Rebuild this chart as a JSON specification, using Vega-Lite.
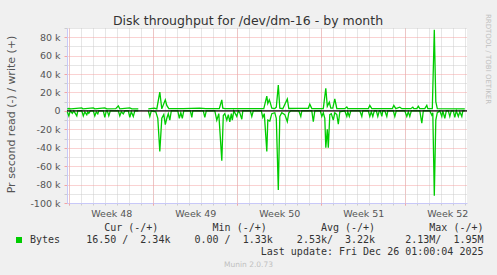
{
  "$schema": "https://vega.github.io/schema/vega-lite/v6.json",
  "width": 400,
  "height": 175,
  "autosize": {"type": "none"},
  "padding": {"left": 67, "top": 28, "right": 30, "bottom": 72},
  "background": "#f0f0f0",
  "view": {"fill": "#ffffff", "stroke": null},
  "title": {
    "text": "Disk throughput for /dev/dm-16 - by month",
    "font": "DejaVu Sans", "fontSize": 12.5, "fontWeight": "normal", "color": "#333333",
    "anchor": "middle", "frame": "group", "dx": -19, "offset": -24, "baseline": "alphabetic"
  },
  "datasets": {
    "write": [
      {"t": "2025-11-22T20:00Z", "v": 2200}, {"t": "2025-11-22T23:00Z", "v": 2600}, {"t": "2025-11-23T03:00Z", "v": 2200},
      {"t": "2025-11-24T01:00Z", "v": 3300}, {"t": "2025-11-24T03:00Z", "v": 2200}, {"t": "2025-11-25T00:00Z", "v": 3300},
      {"t": "2025-11-25T03:00Z", "v": 2200}, {"t": "2025-11-25T23:00Z", "v": 3300}, {"t": "2025-11-26T03:00Z", "v": 2200},
      {"t": "2025-11-26T21:00Z", "v": 2400}, {"t": "2025-11-27T02:00Z", "v": 5400}, {"t": "2025-11-27T05:00Z", "v": 2200},
      {"t": "2025-11-28T01:00Z", "v": 3300}, {"t": "2025-11-28T05:00Z", "v": 2200}, {"t": "2025-11-28T18:00Z", "v": 2200},
      {"t": "2025-11-29T03:00Z", "v": null},
      {"t": "2025-11-29T14:00Z", "v": 2200}, {"t": "2025-11-30T02:00Z", "v": 3000}, {"t": "2025-11-30T07:00Z", "v": 2200},
      {"t": "2025-11-30T13:00Z", "v": 20500}, {"t": "2025-11-30T17:00Z", "v": 2200}, {"t": "2025-12-01T00:00Z", "v": 12000},
      {"t": "2025-12-01T03:00Z", "v": 6000}, {"t": "2025-12-01T07:00Z", "v": 2500}, {"t": "2025-12-02T12:00Z", "v": 2500},
      {"t": "2025-12-03T21:00Z", "v": 3000}, {"t": "2025-12-04T09:00Z", "v": 2400}, {"t": "2025-12-05T12:00Z", "v": 2400},
      {"t": "2025-12-05T17:00Z", "v": 12000}, {"t": "2025-12-05T19:00Z", "v": 3000}, {"t": "2025-12-05T23:00Z", "v": 2400},
      {"t": "2025-12-09T05:00Z", "v": 2500}, {"t": "2025-12-09T11:00Z", "v": 16000}, {"t": "2025-12-09T13:00Z", "v": 8000},
      {"t": "2025-12-09T16:00Z", "v": 12000}, {"t": "2025-12-09T18:00Z", "v": 8700}, {"t": "2025-12-09T21:00Z", "v": 3000},
      {"t": "2025-12-10T03:00Z", "v": 2500}, {"t": "2025-12-10T06:00Z", "v": 4000}, {"t": "2025-12-10T10:00Z", "v": 28000},
      {"t": "2025-12-10T13:00Z", "v": 3000}, {"t": "2025-12-10T19:00Z", "v": 2400}, {"t": "2025-12-11T04:00Z", "v": 13000},
      {"t": "2025-12-11T07:00Z", "v": 2600}, {"t": "2025-12-12T01:00Z", "v": 2800}, {"t": "2025-12-12T22:00Z", "v": 2800},
      {"t": "2025-12-13T01:00Z", "v": 7200}, {"t": "2025-12-13T05:00Z", "v": 2600}, {"t": "2025-12-14T04:00Z", "v": 2400},
      {"t": "2025-12-14T09:00Z", "v": 24600}, {"t": "2025-12-14T12:00Z", "v": 5000}, {"t": "2025-12-14T16:00Z", "v": 9400},
      {"t": "2025-12-14T19:00Z", "v": 3000}, {"t": "2025-12-14T23:00Z", "v": 3000}, {"t": "2025-12-15T03:00Z", "v": 13000},
      {"t": "2025-12-15T07:00Z", "v": 2600}, {"t": "2025-12-15T23:00Z", "v": 2400}, {"t": "2025-12-16T03:00Z", "v": 4300},
      {"t": "2025-12-16T05:00Z", "v": 2400}, {"t": "2025-12-17T22:00Z", "v": 2400}, {"t": "2025-12-18T01:00Z", "v": 6000},
      {"t": "2025-12-18T05:00Z", "v": 2500}, {"t": "2025-12-19T22:00Z", "v": 2400}, {"t": "2025-12-20T01:00Z", "v": 6000},
      {"t": "2025-12-20T05:00Z", "v": 2500}, {"t": "2025-12-20T13:00Z", "v": 4000}, {"t": "2025-12-20T17:00Z", "v": 2400},
      {"t": "2025-12-21T11:00Z", "v": 2400}, {"t": "2025-12-21T15:00Z", "v": 4000}, {"t": "2025-12-21T17:00Z", "v": 2400},
      {"t": "2025-12-21T23:00Z", "v": 2400}, {"t": "2025-12-22T02:00Z", "v": 5000}, {"t": "2025-12-22T05:00Z", "v": 2400},
      {"t": "2025-12-22T15:00Z", "v": 2400}, {"t": "2025-12-22T19:00Z", "v": 6000}, {"t": "2025-12-22T21:00Z", "v": 2400},
      {"t": "2025-12-23T06:00Z", "v": 2400}, {"t": "2025-12-23T10:00Z", "v": 88000}, {"t": "2025-12-23T13:00Z", "v": 10000},
      {"t": "2025-12-23T16:00Z", "v": 2400}, {"t": "2025-12-25T23:00Z", "v": 2300}
    ],
    "read": [
      {"t": "2025-11-22T20:00Z", "v": -1000}, {"t": "2025-11-22T23:00Z", "v": -5400}, {"t": "2025-11-23T02:00Z", "v": 0},
      {"t": "2025-11-23T06:00Z", "v": -2600}, {"t": "2025-11-23T09:00Z", "v": 0}, {"t": "2025-11-23T15:00Z", "v": -5400},
      {"t": "2025-11-23T17:00Z", "v": 0}, {"t": "2025-11-24T01:00Z", "v": 0}, {"t": "2025-11-24T04:00Z", "v": -5400},
      {"t": "2025-11-24T07:00Z", "v": -1000}, {"t": "2025-11-24T11:00Z", "v": -4300}, {"t": "2025-11-24T13:00Z", "v": -1000},
      {"t": "2025-11-24T15:00Z", "v": -2600}, {"t": "2025-11-24T18:00Z", "v": 0}, {"t": "2025-11-25T00:00Z", "v": 0},
      {"t": "2025-11-25T03:00Z", "v": -5400}, {"t": "2025-11-25T06:00Z", "v": -1000}, {"t": "2025-11-25T09:00Z", "v": -3300},
      {"t": "2025-11-25T11:00Z", "v": 0}, {"t": "2025-11-25T20:00Z", "v": 0}, {"t": "2025-11-25T23:00Z", "v": -6900},
      {"t": "2025-11-26T02:00Z", "v": 0}, {"t": "2025-11-26T04:00Z", "v": 0}, {"t": "2025-11-26T07:00Z", "v": -5400},
      {"t": "2025-11-26T10:00Z", "v": 0}, {"t": "2025-11-27T02:00Z", "v": 0}, {"t": "2025-11-27T05:00Z", "v": -5400},
      {"t": "2025-11-27T08:00Z", "v": -1000}, {"t": "2025-11-27T12:00Z", "v": -3300}, {"t": "2025-11-27T15:00Z", "v": 0},
      {"t": "2025-11-27T22:00Z", "v": 0}, {"t": "2025-11-28T01:00Z", "v": -6900}, {"t": "2025-11-28T04:00Z", "v": -1000},
      {"t": "2025-11-28T08:00Z", "v": -6000}, {"t": "2025-11-28T11:00Z", "v": 0}, {"t": "2025-11-28T18:00Z", "v": 0},
      {"t": "2025-11-29T03:00Z", "v": null},
      {"t": "2025-11-29T14:00Z", "v": 0}, {"t": "2025-11-29T17:00Z", "v": -6000}, {"t": "2025-11-29T20:00Z", "v": 0},
      {"t": "2025-11-30T05:00Z", "v": -1000}, {"t": "2025-11-30T09:00Z", "v": -8000}, {"t": "2025-11-30T13:00Z", "v": -44000},
      {"t": "2025-11-30T17:00Z", "v": -8000}, {"t": "2025-11-30T21:00Z", "v": -4000}, {"t": "2025-12-01T00:00Z", "v": -15000},
      {"t": "2025-12-01T03:00Z", "v": -8000}, {"t": "2025-12-01T06:00Z", "v": -3000}, {"t": "2025-12-01T09:00Z", "v": -10000},
      {"t": "2025-12-01T12:00Z", "v": 0}, {"t": "2025-12-02T01:00Z", "v": 0}, {"t": "2025-12-02T04:00Z", "v": -8000},
      {"t": "2025-12-02T07:00Z", "v": -2000}, {"t": "2025-12-02T10:00Z", "v": -8000}, {"t": "2025-12-02T13:00Z", "v": 0},
      {"t": "2025-12-03T02:00Z", "v": 0}, {"t": "2025-12-03T05:00Z", "v": -7000}, {"t": "2025-12-03T07:00Z", "v": 0},
      {"t": "2025-12-04T04:00Z", "v": 0}, {"t": "2025-12-04T07:00Z", "v": -7000}, {"t": "2025-12-04T10:00Z", "v": 0},
      {"t": "2025-12-05T03:00Z", "v": 0}, {"t": "2025-12-05T07:00Z", "v": -10000}, {"t": "2025-12-05T11:00Z", "v": -3000},
      {"t": "2025-12-05T17:00Z", "v": -54000}, {"t": "2025-12-05T20:00Z", "v": -5000}, {"t": "2025-12-05T23:00Z", "v": -3000},
      {"t": "2025-12-06T03:00Z", "v": -10000}, {"t": "2025-12-06T06:00Z", "v": -4000}, {"t": "2025-12-06T09:00Z", "v": -12000},
      {"t": "2025-12-06T12:00Z", "v": -3000}, {"t": "2025-12-06T14:00Z", "v": -10000}, {"t": "2025-12-06T17:00Z", "v": 0},
      {"t": "2025-12-06T23:00Z", "v": -6000}, {"t": "2025-12-07T02:00Z", "v": 0}, {"t": "2025-12-07T05:00Z", "v": -2000},
      {"t": "2025-12-07T09:00Z", "v": -9000}, {"t": "2025-12-07T11:00Z", "v": 0}, {"t": "2025-12-08T02:00Z", "v": 0},
      {"t": "2025-12-08T05:00Z", "v": -6000}, {"t": "2025-12-08T08:00Z", "v": 0}, {"t": "2025-12-09T00:00Z", "v": 0},
      {"t": "2025-12-09T03:00Z", "v": -7000}, {"t": "2025-12-09T06:00Z", "v": -3000}, {"t": "2025-12-09T11:00Z", "v": -44000},
      {"t": "2025-12-09T13:00Z", "v": -10000}, {"t": "2025-12-09T17:00Z", "v": -11000}, {"t": "2025-12-09T21:00Z", "v": -3000},
      {"t": "2025-12-10T03:00Z", "v": -2000}, {"t": "2025-12-10T06:00Z", "v": -8000}, {"t": "2025-12-10T10:00Z", "v": -86000},
      {"t": "2025-12-10T13:00Z", "v": -6000}, {"t": "2025-12-10T17:00Z", "v": -2000}, {"t": "2025-12-10T23:00Z", "v": -4000},
      {"t": "2025-12-11T04:00Z", "v": -11600}, {"t": "2025-12-11T07:00Z", "v": -2000}, {"t": "2025-12-11T11:00Z", "v": 0},
      {"t": "2025-12-12T03:00Z", "v": 0}, {"t": "2025-12-12T07:00Z", "v": -6000}, {"t": "2025-12-12T09:00Z", "v": 0},
      {"t": "2025-12-13T05:00Z", "v": 0}, {"t": "2025-12-13T08:00Z", "v": -11600}, {"t": "2025-12-13T11:00Z", "v": 0},
      {"t": "2025-12-13T22:00Z", "v": 0}, {"t": "2025-12-14T01:00Z", "v": -6000}, {"t": "2025-12-14T04:00Z", "v": -2000},
      {"t": "2025-12-14T07:00Z", "v": -8000}, {"t": "2025-12-14T09:00Z", "v": -40000}, {"t": "2025-12-14T12:00Z", "v": -20000},
      {"t": "2025-12-14T14:00Z", "v": -40000}, {"t": "2025-12-14T17:00Z", "v": -4000}, {"t": "2025-12-14T20:00Z", "v": -3000},
      {"t": "2025-12-15T00:00Z", "v": -10000}, {"t": "2025-12-15T03:00Z", "v": -2000}, {"t": "2025-12-15T07:00Z", "v": -4000},
      {"t": "2025-12-15T10:00Z", "v": -14500}, {"t": "2025-12-15T13:00Z", "v": -1000}, {"t": "2025-12-15T23:00Z", "v": 0},
      {"t": "2025-12-16T03:00Z", "v": -6000}, {"t": "2025-12-16T05:00Z", "v": -1000}, {"t": "2025-12-16T08:00Z", "v": -6000},
      {"t": "2025-12-16T11:00Z", "v": 0}, {"t": "2025-12-17T05:00Z", "v": 0}, {"t": "2025-12-17T09:00Z", "v": -6000},
      {"t": "2025-12-17T11:00Z", "v": 0}, {"t": "2025-12-17T22:00Z", "v": 0}, {"t": "2025-12-18T01:00Z", "v": -6000},
      {"t": "2025-12-18T04:00Z", "v": -1000}, {"t": "2025-12-18T07:00Z", "v": -6000}, {"t": "2025-12-18T10:00Z", "v": 0},
      {"t": "2025-12-18T14:00Z", "v": 0}, {"t": "2025-12-18T17:00Z", "v": -6000}, {"t": "2025-12-18T20:00Z", "v": 0},
      {"t": "2025-12-18T22:00Z", "v": 0}, {"t": "2025-12-19T01:00Z", "v": -6000}, {"t": "2025-12-19T03:00Z", "v": 0},
      {"t": "2025-12-19T07:00Z", "v": 0}, {"t": "2025-12-19T11:00Z", "v": -6000}, {"t": "2025-12-19T13:00Z", "v": 0},
      {"t": "2025-12-20T00:00Z", "v": 0}, {"t": "2025-12-20T03:00Z", "v": -6000}, {"t": "2025-12-20T06:00Z", "v": 0},
      {"t": "2025-12-20T23:00Z", "v": 0}, {"t": "2025-12-21T03:00Z", "v": -6000}, {"t": "2025-12-21T06:00Z", "v": -1000},
      {"t": "2025-12-21T09:00Z", "v": -6000}, {"t": "2025-12-21T12:00Z", "v": 0}, {"t": "2025-12-22T05:00Z", "v": 0},
      {"t": "2025-12-22T09:00Z", "v": -13400}, {"t": "2025-12-22T12:00Z", "v": 0}, {"t": "2025-12-23T01:00Z", "v": 0},
      {"t": "2025-12-23T05:00Z", "v": -4700}, {"t": "2025-12-23T07:00Z", "v": -2000}, {"t": "2025-12-23T10:00Z", "v": -92000},
      {"t": "2025-12-23T13:00Z", "v": -10000}, {"t": "2025-12-23T16:00Z", "v": -2000}, {"t": "2025-12-23T21:00Z", "v": 0},
      {"t": "2025-12-24T01:00Z", "v": -6000}, {"t": "2025-12-24T03:00Z", "v": 0}, {"t": "2025-12-24T07:00Z", "v": -8000},
      {"t": "2025-12-24T10:00Z", "v": 0}, {"t": "2025-12-24T14:00Z", "v": 0}, {"t": "2025-12-24T17:00Z", "v": -6000},
      {"t": "2025-12-24T20:00Z", "v": 0}, {"t": "2025-12-25T00:00Z", "v": 0}, {"t": "2025-12-25T03:00Z", "v": -7000},
      {"t": "2025-12-25T06:00Z", "v": 0}, {"t": "2025-12-25T10:00Z", "v": -6000}, {"t": "2025-12-25T13:00Z", "v": -1000},
      {"t": "2025-12-25T17:00Z", "v": -6000}, {"t": "2025-12-25T19:00Z", "v": 0}, {"t": "2025-12-25T23:00Z", "v": 0}
    ]
  },
  "layer": [
    {
      "data": {"name": "write"},
      "mark": {"type": "line", "strokeWidth": 1.3, "invalid": "break-paths-show-domains"},
      "encoding": {
        "x": {
          "field": "t", "type": "temporal",
          "scale": {
            "type": "utc",
            "domain": [
              {"year": 2025, "month": 11, "date": 22, "hours": 19, "minutes": 24, "utc": true},
              {"year": 2025, "month": 12, "date": 26, "hours": 3, "minutes": 24, "utc": true}
            ]
          },
          "axis": {
            "orient": "bottom",
            "tickCount": {"interval": "day", "step": 1},
            "grid": true, "gridColor": "#cccccc", "gridDash": [1, 1], "gridWidth": 1,
            "labels": false, "ticks": true, "tickColor": "#cccccc", "tickSize": 2,
            "domain": true, "domainColor": "#c8c8f8", "domainWidth": 1,
            "title": [
              "Cur\u00a0(-/+)\u00a0\u00a0\u00a0\u00a0\u00a0\u00a0\u00a0\u00a0\u00a0Min\u00a0(-/+)\u00a0\u00a0\u00a0\u00a0\u00a0\u00a0\u00a0\u00a0\u00a0Avg\u00a0(-/+)\u00a0\u00a0\u00a0\u00a0\u00a0\u00a0\u00a0\u00a0\u00a0Max\u00a0(-/+)\u00a0",
              "16.50\u00a0/\u00a0\u00a02.34k\u00a0\u00a0\u00a0\u00a00.00\u00a0/\u00a0\u00a01.33k\u00a0\u00a0\u00a0\u00a02.53k/\u00a0\u00a03.22k\u00a0\u00a0\u00a0\u00a0\u00a02.13M/\u00a0\u00a01.95M",
              "Last\u00a0update:\u00a0Fri\u00a0Dec\u00a026\u00a001:00:04\u00a02025"
            ],
            "titleFont": "DejaVu Sans Mono", "titleFontSize": 10, "titleFontWeight": "normal",
            "titleColor": "#333333", "titleAlign": "right", "titleBaseline": "alphabetic",
            "titleAngle": 0, "titleX": 416, "titleY": 27.4, "titleLineHeight": 12.3, "titleLimit": 2000
          }
        },
        "y": {
          "field": "v", "type": "quantitative",
          "scale": {"domain": [-100000, 90000], "nice": false, "zero": false},
          "axis": {
            "orient": "left",
            "values": [-90000, -70000, -50000, -30000, -10000, 10000, 30000, 50000, 70000, 90000],
            "grid": true, "gridColor": "#cccccc", "gridDash": [1, 1],
            "labels": false, "ticks": true, "tickColor": "#cccccc", "tickSize": 3,
            "domain": false, "title": null
          }
        },
        "color": {
          "datum": "Bytes", "type": "nominal",
          "scale": {"domain": ["Bytes"], "range": ["#00cc00"]},
          "legend": {
            "orient": "none", "legendX": -53, "legendY": 207, "title": null,
            "labelFont": "DejaVu Sans Mono", "labelFontSize": 10, "labelColor": "#333333",
            "padding": 0, "labelOffset": 6, "symbolSize": 36, "symbolType": "square",
            "symbolStrokeWidth": 0, "symbolFillColor": "#00cc00",
            "encode": {"symbols": {"update": {"fill": {"value": "#00cc00"}, "stroke": {"value": "#00cc00"}, "strokeWidth": {"value": 0}, "shape": {"value": "square"}, "opacity": {"value": 1}}}}
          }
        }
      }
    },
    {
      "data": {"name": "read"},
      "mark": {"type": "line", "strokeWidth": 1.3, "invalid": "break-paths-show-domains"},
      "encoding": {
        "x": {
          "field": "t", "type": "temporal",
          "axis": {
            "orient": "bottom",
            "values": [
              {"year": 2025, "month": 11, "date": 23, "utc": true},
              {"year": 2025, "month": 11, "date": 30, "utc": true},
              {"year": 2025, "month": 12, "date": 7, "utc": true},
              {"year": 2025, "month": 12, "date": 14, "utc": true},
              {"year": 2025, "month": 12, "date": 21, "utc": true}
            ],
            "grid": true, "gridColor": "#f4a4a4", "gridDash": [1, 1],
            "ticks": true, "tickColor": "#f4a4a4", "tickSize": 2, "domain": false,
            "labels": true,
            "labelExpr": "'Week ' + utcFormat(time(datum.value) + 302400000, '%V')",
            "labelOffset": 42, "labelPadding": 3.5, "labelFont": "DejaVu Sans", "labelFontSize": 9.5,
            "labelColor": "#555555", "labelAlign": "center", "labelBaseline": "top",
            "labelOverlap": false, "labelBound": false, "labelFlush": false,
            "title": "Munin 2.0.73", "titleFont": "DejaVu Sans", "titleFontSize": 7.5,
            "titleColor": "#c0c0c0", "titleFontWeight": "normal", "titleX": 181, "titleY": 63.5,
            "titleAlign": "center", "titleBaseline": "alphabetic", "titleAngle": 0
          }
        },
        "y": {
          "field": "v", "type": "quantitative",
          "axis": {
            "orient": "left",
            "values": [-100000, -80000, -60000, -40000, -20000, 0, 20000, 40000, 60000, 80000],
            "grid": true, "gridColor": "#f4a4a4", "gridDash": [1, 1],
            "ticks": true, "tickColor": "#f4a4a4", "tickSize": 3,
            "domain": true, "domainColor": "#c8c8f8", "domainWidth": 1,
            "labelExpr": "datum.value == 0 ? '0' : (datum.value / 1000) + ' k'",
            "labelFont": "DejaVu Sans", "labelFontSize": 9.5, "labelColor": "#555555", "labelPadding": 4,
            "labelOverlap": false, "labelFlush": false,
            "title": "Pr second read (-) / write (+)", "titleFont": "DejaVu Sans", "titleFontSize": 11,
            "titleFontWeight": "normal", "titleColor": "#555555", "titleX": -56, "titleY": 86,
            "titleAngle": -90, "titleAlign": "center", "titleBaseline": "middle"
          }
        },
        "color": {
          "datum": "Bytes", "type": "nominal",
          "scale": {"domain": ["Bytes"], "range": ["#00cc00"]},
          "legend": {
            "orient": "none", "legendX": -53, "legendY": 207, "title": null,
            "labelFont": "DejaVu Sans Mono", "labelFontSize": 10, "labelColor": "#333333",
            "padding": 0, "labelOffset": 6, "symbolSize": 36, "symbolType": "square",
            "symbolStrokeWidth": 0, "symbolFillColor": "#00cc00",
            "encode": {"symbols": {"update": {"fill": {"value": "#00cc00"}, "stroke": {"value": "#00cc00"}, "strokeWidth": {"value": 0}, "shape": {"value": "square"}, "opacity": {"value": 1}}}}
          }
        }
      }
    },
    {
      "data": {"values": [{"v": 0}]},
      "mark": {"type": "rule", "color": "#000000", "strokeWidth": 1.2},
      "encoding": {
        "y": {
          "field": "v", "type": "quantitative",
          "axis": {
            "orient": "right", "labels": false, "ticks": false, "domain": false, "grid": false,
            "title": "RRDTOOL / TOBI OETIKER", "titleFont": "DejaVu Sans", "titleFontSize": 7,
            "titleColor": "#c0c0c0", "titleFontWeight": "normal", "titleAngle": 90,
            "titleX": 20, "titleY": 30.5, "titleAlign": "center", "titleBaseline": "middle"
          }
        }
      }
    }
  ],
  "resolve": {"axis": {"x": "independent", "y": "independent"}},
  "config": {"view": {"stroke": null}}
}
